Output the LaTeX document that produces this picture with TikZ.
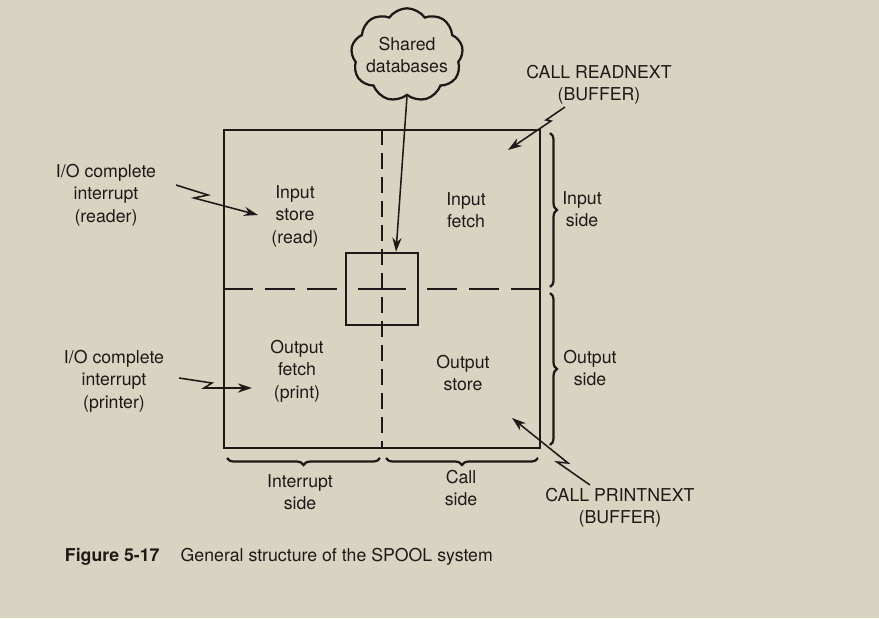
\documentclass[tikz,border=0pt]{standalone}
\usepackage{fontspec}
\setmainfont{TeX Gyre Heros}
\usetikzlibrary{shapes.symbols,decorations.pathreplacing,arrows.meta}
\definecolor{paper}{RGB}{217,212,193}
\definecolor{ink}{RGB}{30,25,24}
\begin{document}
\begin{tikzpicture}[x=0.025cm,y=-0.025cm,>={Stealth[length=10pt,width=6.5pt]},
                   every node/.style={font=\fontsize{12.6}{16}\selectfont,text=ink,align=center},
                   bolt/.style={->,draw=ink,line width=1.1pt},
                   sidebrace/.style={draw=ink,line width=1.6pt,decorate,decoration={brace,amplitude=5pt}}]
\useasboundingbox[fill=paper] (0,0) rectangle (879,618);
% the two-by-two store
\node[draw=ink,line width=2pt,minimum width=7.9cm,minimum height=7.95cm] (frame) at (382,289) {};
\draw[ink,line width=1.3pt,dash pattern=on 0.4cm off 0.2cm] (frame.north) -- (frame.south);
\node[draw=ink,line width=1.7pt,minimum size=1.8cm,inner sep=0pt] (hub) at (frame.center) {};
\draw[ink,line width=1.3pt,dash pattern=on 0.75cm off 0.3cm] (frame.west) -- (hub.west) (frame.east) -- (hub.east);
\draw[ink,line width=1.3pt] ([xshift=-0.6cm]hub.center) -- ([xshift=0.6cm]hub.center);
\node[cloud,draw=ink,line width=1.6pt,cloud puffs=9,cloud puff arc=110,aspect=1.3,inner sep=-3pt,
      minimum width=2.8cm,minimum height=2.2cm] (db) at (407,55) {Shared\\databases};
\draw[->,ink,line width=1.1pt] (db.south) -- ([xshift=0.35cm]hub.north);
% quadrant texts
\node (instore) at (295,216) {Input\\store\\(read)};
\node (infetch) at (466,210) {Input\\fetch};
\node (outfetch) at (297,371) {Output\\fetch\\(print)};
\node (outstore) at (463,373) {Output\\store};
% outside labels
\node (rdr) at (106,195) {I/O complete\\interrupt\\(reader)};
\node (prn) at (114,381) {I/O complete\\interrupt\\(printer)};
\node (rdnext) at (599,85) {CALL READNEXT\\(BUFFER)};
\node (prnext) at (620,508) {CALL PRINTNEXT\\(BUFFER)};
\coordinate (rdrfrom) at (176,185);
\coordinate (rdrtip) at (258,215);
\coordinate (prnfrom) at (179,378);
\coordinate (prntip) at (252,388);
\coordinate (rdnfrom) at (565,107);
\coordinate (rdntip) at (508,150);
\coordinate (prnxfrom) at (590,485);
\coordinate (prnxtip) at (512,418);
\draw[bolt] (rdrfrom) -- (208,195) -- (194,198) -- (rdrtip);
\draw[bolt] (prnfrom) -- (212,383) -- (204,388) -- (prntip);
\draw[bolt] (rdnfrom) -- (546,120) -- (551,121) -- (rdntip);
\draw[bolt] (prnxfrom) -- (557,462) -- (568,463) -- (prnxtip);
% sides
\draw[sidebrace] (550,133) -- (550,287);
\draw[sidebrace] (550,293) -- (550,445);
\draw[sidebrace] (380,458) -- (227,458);
\draw[sidebrace] (538,458) -- (386,458);
\node (inside) at (582,209) {Input\\side};
\node (outside) at (590,368) {Output\\side};
\node (intside) at (300,492) {Interrupt\\side};
\node (callside) at (461,488) {Call\\side};
\node[anchor=west] (cap) at (60,557) {\textbf{Figure 5-17}\hspace{15pt}General structure of the SPOOL system};
\end{tikzpicture}
\end{document}
